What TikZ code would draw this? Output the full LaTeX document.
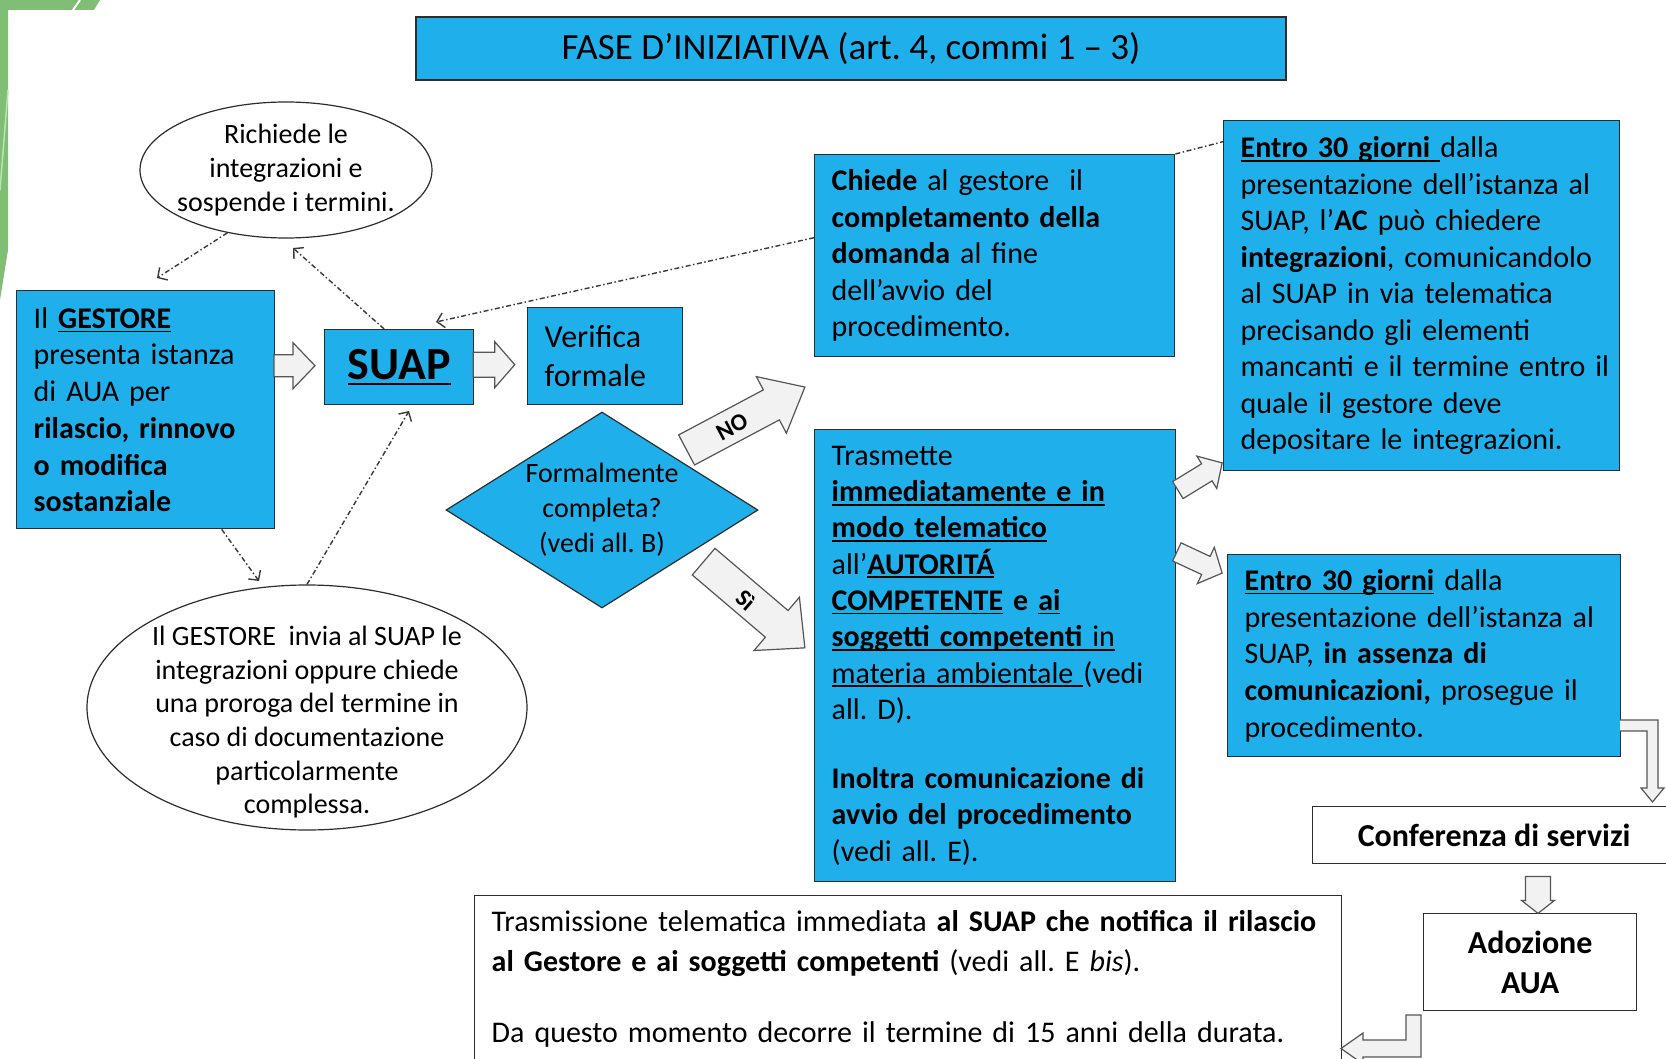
\documentclass[tikz,border=0pt]{standalone}
\usepackage{fontspec}
\setmainfont{Carlito}
\usetikzlibrary{shapes.geometric,arrows.meta,calc}
\frenchspacing
\newlength{\undw}
\newcommand{\undx}[3]{\settowidth{\undw}{#3}\makebox[0pt][l]{\rule[-#1]{\undw}{#2}}#3}
\newcommand{\und}[1]{\undx{4pt}{1.7pt}{#1}}
\newcommand{\myfs}[2]{\fontsize{#1}{#2}\selectfont}
\definecolor{boxblue}{RGB}{31,175,234}
\definecolor{edge}{RGB}{45,45,45}
\definecolor{arrowfill}{RGB}{242,242,242}
\definecolor{arrowedge}{RGB}{85,85,85}
\definecolor{slidegreen}{RGB}{128,190,118}
\definecolor{lightgreen}{RGB}{190,225,180}
\tikzset{
  bluebox/.style={draw=edge, line width=1.4pt, fill=boxblue, rectangle, inner sep=0pt, inner xsep=17pt, align=left, anchor=north west},
  blueplain/.style={draw=edge, line width=1.4pt, fill=boxblue, rectangle, inner sep=0pt, align=center, anchor=north west},
  whitebox/.style={draw=edge, line width=1.4pt, fill=white, rectangle, inner sep=0pt, align=center, anchor=north west},
  bubble/.style={draw=edge, line width=1.2pt, fill=white, ellipse, inner xsep=-10pt, inner ysep=-30pt, align=center},
  blockarrow/.style={draw=arrowedge, fill=arrowfill, line width=1.2pt, line join=miter},
  dashdot/.style={draw=gray!45!black, line width=1.4pt, dash pattern=on 5pt off 2.5pt on 1.5pt off 2.5pt},
  opentip/.style={-{Straight Barb[length=7pt,width=15pt]}},
  pics/barrow/.style n args={4}{code={
    \draw[blockarrow] (-#1/2,-#2/2) -- (#1/2-#4,-#2/2) -- (#1/2-#4,-#3/2) -- (#1/2,0)
      -- (#1/2-#4,#3/2) -- (#1/2-#4,#2/2) -- (-#1/2,#2/2) -- cycle;
  }}
}
\begin{document}
\begin{tikzpicture}[x=1pt,y=-1pt]
\useasboundingbox (0,0) rectangle (1666,1059);
\clip (0,0) rectangle (1666,1059);
\fill[white] (0,0) rectangle (1666,1059);
% slide decoration
\fill[slidegreen] (0,0) -- (100,0) -- (94,10) -- (8,10) -- (8,250) -- (0,300) -- cycle;
\draw[white, line width=2pt] (80,0) -- (73,10);
\draw[lightgreen, line width=1.5pt] (8,90) -- (0,190);

% title
\node[draw=edge, line width=1.8pt, fill=boxblue, minimum width=870pt, minimum height=63pt, inner sep=0pt, font={\myfs{37}{40}}] (title) at (851,48.5) {FASE D’INIZIATIVA (art. 4, commi 1 – 3)};

% boxes
\node[bluebox, text width=224pt, minimum height=238pt, font={\myfs{30}{36.7}}] (gestore) at (16,290)
  {Il \textbf{\und{GESTORE}}\\presenta istanza\\di AUA per\\\textbf{rilascio, rinnovo}\\\textbf{o modifica}\\\textbf{sostanziale}};
\node[blueplain, minimum width=149pt, minimum height=75pt, font={\myfs{46}{50}\bfseries}] (suap) at (324,329)
  {\undx{5.5pt}{2.4pt}{SUAP}};
\node[bluebox, text width=121pt, minimum height=97pt, font={\myfs{32}{39.3}}] (verif) at (527,307) {Verifica\\formale};
\node[diamond, draw=edge, line width=1.2pt, fill=boxblue, aspect=1.59, inner sep=0pt, minimum width=312pt, minimum height=196pt, align=center, font={\myfs{28}{35}}] (diam) at (602,510)
  {Formalmente\\completa?\\(vedi all. B)};
\node[bluebox, text width=326pt, minimum height=202pt, font={\myfs{30}{36.5}}] (chiede) at (814,154)
  {\textbf{Chiede} al gestore\ \ il\\\textbf{completamento della}\\\textbf{domanda} al fine\\dell’avvio del\\procedimento.};
\node[bluebox, text width=362pt, minimum height=350pt, font={\myfs{30}{36.5}}] (entro1) at (1223,120)
  {\textbf{\und{Entro 30 giorni\ }}dalla\\presentazione dell’istanza al\\SUAP, l’\textbf{AC} può chiedere\\\mbox{\textbf{integrazioni}, comunicandolo}\\al SUAP in via telematica\\precisando gli elementi\\\mbox{mancanti e il termine entro il}\\quale il gestore deve\\depositare le integrazioni.};
\node[bluebox, text width=327pt, minimum height=452pt, font={\myfs{30}{36.3}}] (trasm) at (814,429)
  {Trasmette\\\textbf{\und{immediatamente e in}}\\\textbf{\und{modo telematico}}\\all’\textbf{\und{AUTORITÁ}}\\\textbf{\und{COMPETENTE}} \textbf{e} \textbf{\und{ai}}\\\und{\textbf{soggetti competenti} in}\\\und{materia ambientale\ }(vedi\\all. D).\\[33pt]\textbf{Inoltra comunicazione di}\\\textbf{avvio del procedimento}\\(vedi all. E).};
\node[bluebox, text width=359pt, minimum height=202pt, font={\myfs{30}{36.7}}] (entro2) at (1227,554)
  {\textbf{\und{Entro 30 giorni}} dalla\\presentazione dell’istanza al\\SUAP, \textbf{in assenza di}\\\mbox{\textbf{comunicazioni,} prosegue il}\\procedimento.};
\node[whitebox, minimum width=363pt, minimum height=57pt, font={\myfs{32}{38}\bfseries}] (conf) at (1312,806) {Conferenza di servizi};
\node[whitebox, minimum width=213pt, minimum height=97pt, font={\myfs{32}{40}\bfseries}] (adoz) at (1423,913) {Adozione\\AUA};
\node[draw=edge, line width=1.4pt, fill=white, anchor=north west, inner xsep=17pt, inner ysep=15pt, text width=833pt, align=left, font={\myfs{30}{39.3}}] (final) at (474,895)
  {Trasmissione telematica immediata \textbf{al SUAP che notifica il rilascio}\\\textbf{al Gestore e ai soggetti competenti} (vedi all. E \textit{bis}).\\[31.7pt]Da questo momento decorre il termine di 15 anni della durata.};

% ellipses
\node[bubble, minimum width=292pt, minimum height=136pt, font={\myfs{28}{34}}] (ell1) at (286,170)
  {Richiede le\\integrazioni e\\sospende i termini.};
\node[bubble, minimum width=440pt, minimum height=245pt, font={\myfs{28}{33.7}}] (ell2) at (307,707.5)
  {\rule{0pt}{49pt}Il GESTORE\ \ invia al SUAP le\\integrazioni oppure chiede\\una proroga del termine in\\caso di documentazione\\particolarmente\\complessa.};

% dash-dot connectors
\coordinate (d1e) at (157,278);
\coordinate (d2e) at (293,248);
\coordinate (d3e) at (436,322);
\coordinate (d5e) at (259,581);
\coordinate (d6e) at (409,411);
\draw[dashdot, opentip] (ell1.-133) -- (d1e);
\draw[dashdot, opentip] ([xshift=-15pt]suap.north) -- (d2e);
\draw[dashdot, opentip] ([yshift=18pt]chiede.west) -- (d3e);
\draw[dashdot] (chiede.north east) -- ([yshift=154pt]entro1.west);
\draw[dashdot, opentip] ([xshift=76pt]gestore.south) -- (d5e);
\draw[dashdot, opentip] (ell2.north) -- (d6e);

% block arrows
\pic at ($(suap.west)+(-29.5,-1.5)$) {barrow={41}{22}{46}{22}};
\pic at ($(verif.west |- suap.east)+(-33,-2.5)$) {barrow={41.5}{25}{46}{20}};
\pic[rotate=28] at (745.75,418.5) {barrow={134}{34}{64}{38}};
\pic[rotate=-40.4] at (754.25,604.75) {barrow={133}{35}{70}{37}};
\pic[rotate=31.5] at (1200,476.5) {barrow={52}{20}{38}{18}};
\pic[rotate=-25] at (1199.5,562.5) {barrow={50}{20}{40}{18}};
\pic[rotate=-90] at ($(conf.south west)+(226,30.5)$) {barrow={37}{25}{33}{13}};
\node[rotate=28, font={\myfs{24}{24}\bfseries}, inner sep=0pt] (nolab) at (732,427) {NO};
\node[rotate=-40.4, font={\myfs{24}{24}\bfseries}, inner sep=0pt] (silab) at (746,600) {Sì};

% bent arrows
\draw[blockarrow] (1620,720) -- (1658,720) -- (1658,788) -- (1664,788) -- (1652.5,802) -- (1641,788) -- (1647,788) -- (1647,731) -- (1620,731);
\draw[blockarrow] (1406,1015) -- (1421,1015) -- (1421,1057) -- (1363,1057) -- (1363,1064) -- (1341,1048.5) -- (1363,1033) -- (1363,1040) -- (1406,1040) -- cycle;
\end{tikzpicture}
\end{document}
